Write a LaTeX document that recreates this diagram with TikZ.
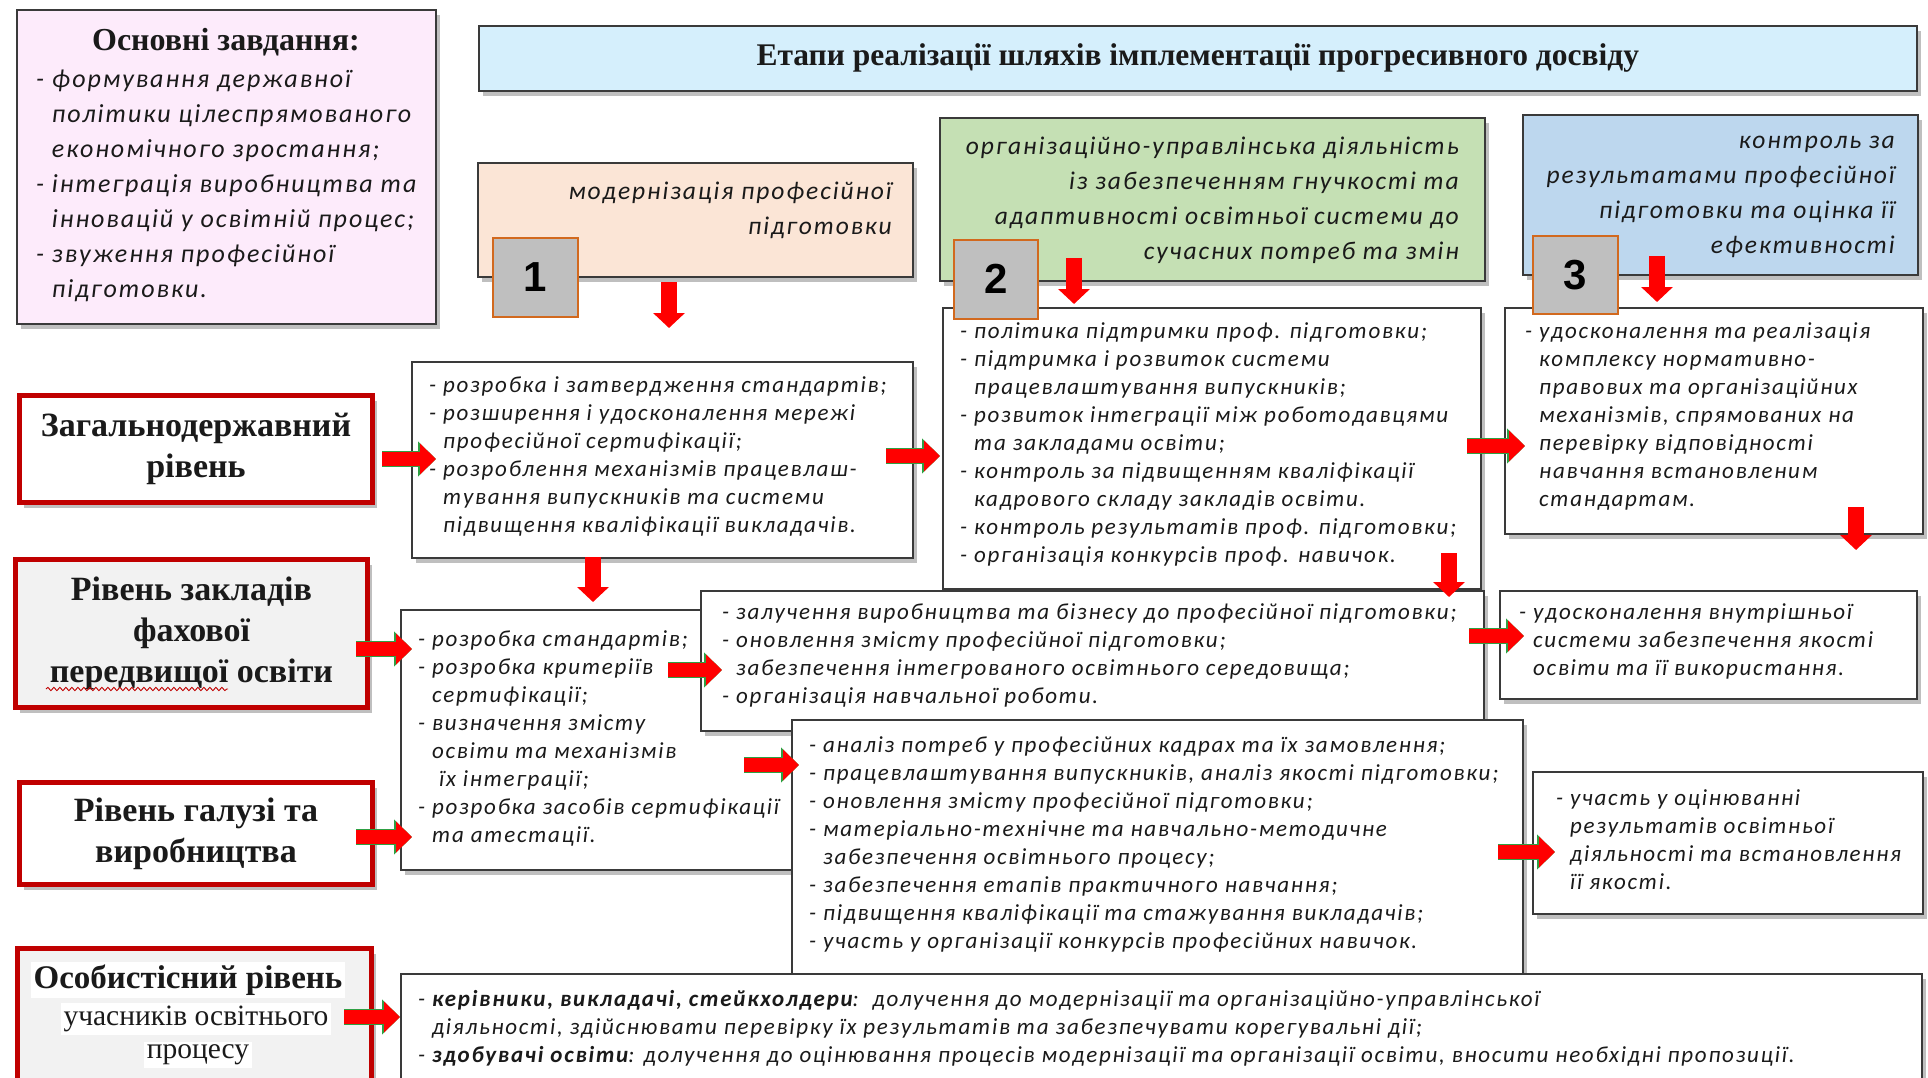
\documentclass[tikz,border=0pt]{standalone}
\usepackage{fontspec}
\setmainfont{Liberation Serif}
\newfontfamily\itf[LetterSpace=7.5]{Carlito}
\newfontfamily\numf{Liberation Sans}
\usetikzlibrary{shadows,arrows.meta,decorations.pathmorphing}
\definecolor{boxln}{HTML}{3A3A3A}
\definecolor{lvred}{HTML}{C00000}
\definecolor{numor}{HTML}{D2691E}
\definecolor{numgr}{HTML}{BFBFBF}
\definecolor{pinkf}{HTML}{FDEBFB}
\definecolor{ttlf}{HTML}{D5EFFC}
\definecolor{peachf}{HTML}{FBE5D6}
\definecolor{greenf}{HTML}{C5E0B4}
\definecolor{bluef}{HTML}{BDD7EE}
\definecolor{grayf}{HTML}{F2F2F2}
\definecolor{arred}{HTML}{FF0000}
\definecolor{argr}{HTML}{2EA043}
\definecolor{txt}{HTML}{1A1A1A}
\newcommand\ind{\hphantom{-\ }}
\begin{document}
\begin{tikzpicture}[x=1pt,y=-1pt,
  shad/.style={drop shadow={shadow xshift=4pt, shadow yshift=-5pt, opacity=0.45, fill=black!55}},
  box/.style={draw=boxln, line width=1.6pt, fill=white, inner sep=0pt, anchor=north west, shad},
  lvl/.style={draw=lvred, line width=5pt, fill=white, inner sep=0pt, anchor=north west, shad,
     align=center, text=txt, font=\bfseries\fontsize{34}{41}\selectfont},
  numbox/.style={draw=numor, fill=numgr, line width=1.6pt, inner sep=0pt, anchor=north west,
     text=black, font=\numf\bfseries\fontsize{42}{42}\selectfont},
  body/.style={inner sep=0pt, anchor=west, align=left, text=txt, font=\itf\itshape\fontsize{23}{28}\selectfont},
  head/.style={inner sep=0pt, anchor=east, align=right, text=txt, font=\itf\itshape\fontsize{25.5}{35}\selectfont},
  rarr/.style={draw=arred, line width=14pt, -{Triangle[length=16pt,width=30pt]},
     preaction={draw=argr, line width=16pt, -{Triangle[length=18pt,width=34pt]}}},
  darr/.style={draw=arred, line width=16pt, -{Triangle[length=15pt,width=31pt]}}
]
\useasboundingbox (0,0) rectangle (1928,1078);
\fill[white] (0,0) rectangle (1928,1078);

% --- top: tasks and title
\node[box, fill=pinkf, minimum width=419pt, minimum height=314pt] (tasks) at (16,9) {};
\node[inner sep=0pt, text=txt, font=\bfseries\fontsize{32}{36}\selectfont] (taskshd) at (226,42) {Основні завдання:};
\node[body, font=\itf\itshape\fontsize{26}{35}\selectfont] (taskstxt) at (36,186)
 {- формування державної\\\ind політики цілеспрямованого\\\ind економічного зростання;\\- інтеграція виробництва та\\\ind інновацій у освітній процес;\\- звуження професійної\\\ind підготовки.};

\node[box, fill=ttlf, minimum width=1438pt, minimum height=65pt, text=txt,
  font=\bfseries\fontsize{31.5}{36}\selectfont] (title) at (478,25) {Етапи реалізації шляхів імплементації прогресивного досвіду};

% --- stage headers
\node[box, fill=peachf, minimum width=435pt, minimum height=114pt] (st1) at (477,162) {};
\node[head] (st1txt) at (892,210) {модернізація професійної\\підготовки};
\node[box, fill=greenf, minimum width=545pt, minimum height=163pt] (st2) at (939,117) {};
\node[head] (st2txt) at (1459,200) {організаційно-управлінська діяльність\\із забезпеченням гнучкості та\\адаптивності освітньої системи до\\сучасних потреб та змін};
\node[box, fill=bluef, minimum width=395pt, minimum height=160pt] (st3) at (1522,114) {};
\node[head] (st3txt) at (1895,197) {контроль за\\результатами професійної\\підготовки та оцінка її\\ефективності};

% --- level labels
\node[lvl, minimum width=353pt, minimum height=107pt] (lv1) at (17,393) {Загальнодержавний\\рівень};
\node[lvl, fill=grayf, minimum width=352pt, minimum height=148pt] (lv2) at (13,557) {Рівень закладів\\фахової\\передвищої освіти};
\draw[lvred, line width=0.9pt, decorate, decoration={snake, amplitude=1.6pt, segment length=6pt}] (46,689) -- (228,689);
\node[lvl, minimum width=353pt, minimum height=102pt] (lv3) at (17,780) {Рівень галузі та\\виробництва};
\node[lvl, fill=grayf, minimum width=354pt, minimum height=150pt] (lv4) at (15,946) {};
\node[fill=white, inner sep=3pt, text=txt, font=\bfseries\fontsize{33}{36}\selectfont] (lv4a) at (188,980) {Особистісний рівень};
\node[fill=white, inner sep=3pt, text=txt, font=\fontsize{29.5}{34}\selectfont] (lv4b) at (196,1019) {учасників освітнього};
\node[fill=white, inner sep=3pt, text=txt, font=\fontsize{29.5}{34}\selectfont] (lv4c) at (198,1055) {процесу};

% --- level 1 row
\node[box, minimum width=501pt, minimum height=196pt] (g1) at (411,361) {};
\node[body] (g1txt) at (429,456) {- розробка і затвердження стандартів;\\- розширення і удосконалення мережі\\\ind професійної сертифікації;\\- розроблення механізмів працевлаш-\\\ind тування випускників та системи\\\ind підвищення кваліфікації викладачів.};
\node[box, minimum width=538pt, minimum height=281pt] (g2) at (942,307) {};
\node[body] (g2txt) at (960,444) {- політика підтримки проф. підготовки;\\- підтримка і розвиток системи\\\ind працевлаштування випускників;\\- розвиток інтеграції між роботодавцями\\\ind та закладами освіти;\\- контроль за підвищенням кваліфікації\\\ind кадрового складу закладів освіти.\\- контроль результатів проф. підготовки;\\- організація конкурсів проф. навичок.};
\node[box, minimum width=418pt, minimum height=226pt] (g3) at (1504,307) {};
\node[body] (g3txt) at (1525,416) {- удосконалення та реалізація\\\ind комплексу нормативно-\\\ind правових та організаційних\\\ind механізмів, спрямованих на\\\ind перевірку відповідності\\\ind навчання встановленим\\\ind стандартам.};

% --- level 2 row
\node[box, minimum width=395pt, minimum height=260pt] (f1) at (400,609) {};
\node[body] (f1txt) at (418,738) {- розробка стандартів;\\- розробка критеріїв\\\ind сертифікації;\\- визначення змісту\\\ind освіти та механізмів\\\ind\ їх інтеграції;\\- розробка засобів сертифікації\\\ind та атестації.};
\node[box, minimum width=783pt, minimum height=140pt] (f2) at (700,590) {};
\node[body] (f2txt) at (722,655) {- залучення виробництва та бізнесу до професійної підготовки;\\- оновлення змісту професійної підготовки;\\\ind забезпечення інтегрованого освітнього середовища;\\- організація навчальної роботи.};
\node[box, minimum width=417pt, minimum height=108pt] (f3) at (1499,590) {};
\node[body] (f3txt) at (1519,641) {- удосконалення внутрішньої\\\ind системи забезпечення якості\\\ind освіти та її використання.};

% --- level 3 row
\node[box, minimum width=731pt, minimum height=255pt] (h1) at (791,719) {};
\node[body] (h1txt) at (809,844) {- аналіз потреб у професійних кадрах та їх замовлення;\\- працевлаштування випускників, аналіз якості підготовки;\\- оновлення змісту професійної підготовки;\\- матеріально-технічне та навчально-методичне\\\ind забезпечення освітнього процесу;\\- забезпечення етапів практичного навчання;\\- підвищення кваліфікації та стажування викладачів;\\- участь у організації конкурсів професійних навичок.};
\node[box, minimum width=390pt, minimum height=142pt] (h2) at (1532,771) {};
\node[body] (h2txt) at (1556,840) {- участь у оцінюванні\\\ind результатів освітньої\\\ind діяльності та встановлення\\\ind її якості.};

% --- level 4 row
\node[box, minimum width=1521pt, minimum height=130pt] (p1) at (400,973) {};
\node[body] (p1txt) at (418,1028) {- \textbf{керівники, викладачі, стейкхолдери}:\ \ долучення до модернізації та організаційно-управлінської\\\ind діяльності, здійснювати перевірку їх результатів та забезпечувати корегувальні дії;\\- \textbf{здобувачі освіти}: долучення до оцінювання процесів модернізації та організації освіти, вносити необхідні пропозиції.};

% --- number boxes
\node[numbox, minimum width=85pt, minimum height=79pt] (n1) at (492,237) {1};
\node[numbox, minimum width=84pt, minimum height=79pt] (n2) at (953,239) {2};
\node[numbox, minimum width=85pt, minimum height=78pt] (n3) at (1532,235) {3};

% --- arrow end points
\coordinate (d1s) at (669,282);  \coordinate (d1e) at (669,328);
\coordinate (d2s) at (1074,258); \coordinate (d2e) at (1074,304);
\coordinate (d3s) at (1657,256); \coordinate (d3e) at (1657,302);
\coordinate (d4s) at (1856,507); \coordinate (d4e) at (1856,550);
\coordinate (d5s) at (593,557);  \coordinate (d5e) at (593,602);
\coordinate (d6s) at (1449,553); \coordinate (d6e) at (1449,597);
\coordinate (r1s) at (382,459);  \coordinate (r1e) at (436,459);
\coordinate (r2s) at (886,456);  \coordinate (r2e) at (940,456);
\coordinate (r3s) at (1467,446); \coordinate (r3e) at (1525,446);
\coordinate (r4s) at (356,649);  \coordinate (r4e) at (412,649);
\coordinate (r5s) at (668,670);  \coordinate (r5e) at (722,670);
\coordinate (r6s) at (1469,636); \coordinate (r6e) at (1524,636);
\coordinate (r7s) at (356,837);  \coordinate (r7e) at (412,837);
\coordinate (r8s) at (744,765);  \coordinate (r8e) at (799,765);
\coordinate (r9s) at (1498,852); \coordinate (r9e) at (1555,852);
\coordinate (r10s) at (344,1017); \coordinate (r10e) at (400,1017);

\foreach \a in {1,...,6} {\draw[darr] (d\a s) -- (d\a e);}
\foreach \a in {1,...,10} {\draw[rarr] (r\a s) -- (r\a e);}
\end{tikzpicture}
\end{document}
